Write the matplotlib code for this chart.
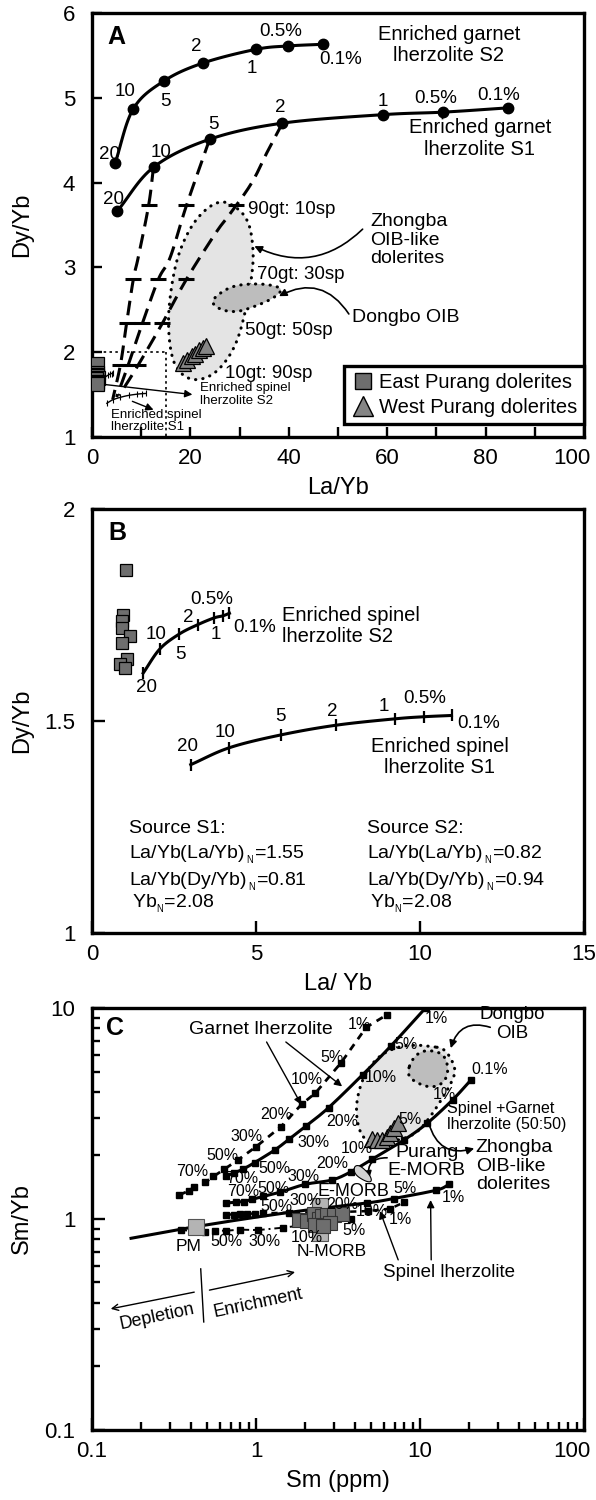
import numpy as np
import matplotlib
matplotlib.use("Agg")
import matplotlib.pyplot as plt
from matplotlib.lines import Line2D
from matplotlib.transforms import ScaledTranslation
from matplotlib.ticker import FixedLocator, LogLocator, NullFormatter, FuncFormatter

plt.rcParams['font.family'] = ['Liberation Sans', 'DejaVu Sans']
plt.rcParams['mathtext.fontset'] = 'custom'
plt.rcParams['mathtext.rm'] = 'Liberation Sans'

# === DATA ===
# Panel A - batch melting of enriched garnet lherzolite (La/Yb, Dy/Yb)
melt_steps = ['20', '10', '5', '2', '1', '0.5%', '0.1%']
grt_s2_la = [4.7, 8.4, 14.7, 22.6, 33.3, 39.8, 46.9]
grt_s2_dy = [4.23, 4.87, 5.20, 5.41, 5.57, 5.61, 5.63]
grt_s1_la = [5.1, 12.5, 23.9, 38.7, 59.1, 71.4, 84.5]
grt_s1_dy = [3.66, 4.18, 4.51, 4.70, 4.80, 4.83, 4.88]

# garnet/spinel mixing curves (10 %, 5 %, 2 % melts)
mix10_la = [12.5, 11.5, 9.4, 8.4, 7.0, 5.8, 4.2]
mix10_dy = [4.18, 3.73, 3.12, 2.86, 2.33, 1.86, 1.44]
mix5_la = [23.9, 19.2, 15.9, 13.5, 10.3, 7.3, 5.0]
mix5_dy = [4.51, 3.73, 3.12, 2.86, 2.35, 1.84, 1.47]
mix2_la = [38.7, 35.7, 32.5, 28.3, 25.2, 19.2, 14.2, 9.1, 5.5]
mix2_dy = [4.70, 4.37, 4.00, 3.65, 3.41, 2.86, 2.33, 1.82, 1.49]
mix_levels = [3.73, 2.86, 2.34, 1.85]

# Zhongba OIB-like dolerites and Dongbo OIB fields
zhongba_la = [27.6, 31.8, 32.9, 32.5, 31.1, 29.4, 26.9, 24.1, 20.6, 17.8, 16.1, 15.4, 15.9, 17.1, 19.2, 21.7, 24.8]
zhongba_dy = [3.78, 3.59, 3.20, 2.88, 2.45, 2.10, 1.86, 1.71, 1.66, 1.75, 1.94, 2.33, 2.69, 3.08, 3.39, 3.61, 3.76]
dongbo_la = [24.1, 26.0, 29.0, 33.9, 37.5, 38.8, 36.5, 31.8, 29.0, 26.0]
dongbo_dy = [2.59, 2.70, 2.79, 2.81, 2.78, 2.73, 2.62, 2.51, 2.47, 2.50]

# Panel B - enriched spinel lherzolite melting
spl_s2_la = [1.56, 2.07, 2.66, 3.22, 3.72, 3.99, 4.19]
spl_s2_dy = [1.613, 1.67, 1.705, 1.727, 1.743, 1.748, 1.754]
spl_s1_la = [3.01, 4.19, 5.75, 7.44, 9.23, 10.12, 10.96]
spl_s1_dy = [1.397, 1.437, 1.467, 1.49, 1.505, 1.51, 1.513]

# samples
east_la = [1.04, 0.93, 0.90, 0.92, 1.16, 0.90, 1.06, 0.85, 1.00]
east_dy = [1.855, 1.75, 1.735, 1.72, 1.70, 1.685, 1.645, 1.635, 1.625]
west_la = [18.5, 19.4, 20.3, 21.0, 21.8, 22.6, 23.2]
west_dy = [1.87, 1.91, 1.95, 1.98, 2.02, 2.05, 2.07]

# Panel C - Sm vs Sm/Yb melting curves
grt1_sm = [0.34, 0.39, 0.42, 0.49, 0.55, 0.64, 0.78, 1.0, 1.42, 1.9, 2.3, 3.3, 4.7, 6.3]
grt1_smyb = [1.30, 1.36, 1.42, 1.49, 1.59, 1.72, 1.91, 2.2, 2.74, 3.5, 3.95, 5.5, 8.1, 9.3]
grt2_sm = [0.66, 0.73, 0.83, 0.98, 1.31, 1.59, 2.02, 2.77, 4.47, 6.61, 10.8]
grt2_smyb = [1.60, 1.65, 1.72, 1.85, 2.13, 2.39, 2.76, 3.37, 4.83, 6.58, 10.0]
sg_sm = [0.66, 0.75, 0.84, 0.95, 1.11, 1.4, 2.0, 2.9, 3.77, 5.1, 8.0, 11.1, 15.8, 20.5]
sg_smyb = [1.19, 1.20, 1.21, 1.24, 1.28, 1.34, 1.46, 1.53, 1.67, 1.92, 2.37, 2.85, 3.67, 4.57]
spl1_sm = [0.173, 0.34, 0.43, 0.92, 2.0, 4.74, 6.9, 12.6, 15.0]
spl1_smyb = [0.81, 0.89, 0.92, 1.01, 1.10, 1.19, 1.25, 1.37, 1.46]
spl2_sm = [0.66, 0.73, 0.80, 0.88, 0.98, 1.1, 1.6, 2.4, 3.4, 4.8, 6.6, 8.0]
spl2_smyb = [1.05, 1.05, 1.055, 1.06, 1.06, 1.065, 1.07, 1.075, 1.08, 1.09, 1.12, 1.20]
dep_sm = [0.35, 0.49, 0.56, 0.66, 0.80, 1.03, 1.47, 3.77]
dep_smyb = [0.886, 0.87, 0.88, 0.88, 0.89, 0.886, 0.91, 0.995]

ref_names = ['PM', 'N-MORB', 'E-MORB']
ref_sm = [0.43, 2.45, 2.47]
ref_smyb = [0.92, 0.86, 1.15]

east_sm = [1.82, 2.04, 2.25, 2.41, 2.53, 2.72, 2.97, 3.34, 2.84, 2.30, 2.55]
east_smyb = [0.99, 0.98, 1.06, 1.00, 1.03, 1.05, 1.05, 1.06, 0.96, 0.94, 0.93]
west_sm = [5.1, 5.5, 5.9, 6.3, 6.6, 6.9, 7.3]
west_smyb = [2.40, 2.38, 2.36, 2.45, 2.55, 2.70, 2.85]

zhongba_sm = [11.6, 14.0, 15.8, 16.5, 15.5, 13.5, 11.6, 9.6, 7.6, 6.1, 5.1, 4.4, 4.1, 4.1, 4.5, 5.5, 7.3, 9.6]
zhongba_smyb = [6.57, 6.46, 5.6, 5.0, 4.4, 3.67, 3.06, 2.55, 2.37, 2.32, 2.28, 2.46, 2.96, 3.67, 4.72, 5.89, 6.57, 6.69]
dongbo_sm = [8.3, 9.0, 10.6, 14.0, 15.0, 14.0, 11.6, 9.2]
dongbo_smyb = [4.9, 5.8, 6.36, 6.11, 5.09, 4.4, 4.17, 4.47]
emorb_sm = [3.95, 4.3, 4.95, 5.1, 4.7, 4.0]
emorb_smyb = [1.78, 1.80, 1.62, 1.50, 1.50, 1.62]

GREY_DARK = '#6e6e6e'
GREY_TRI = '#858585'
GREY_LIGHT = '#b4b4b4'
FIELD = '#e4e4e4'
FIELD_DARK = '#bdbdbd'


def chaikin(x, y, n=4):
    p = np.column_stack([x, y]).astype(float)
    for _ in range(n):
        q = np.roll(p, -1, axis=0)
        p = np.stack([0.75 * p + 0.25 * q, 0.25 * p + 0.75 * q], axis=1).reshape(-1, 2)
    return p


def catmull(x, y, logx=False, logy=False, n=16):
    x = np.asarray(x, float)
    y = np.asarray(y, float)
    p = np.column_stack([np.log10(x) if logx else x, np.log10(y) if logy else y])
    p = np.vstack([2 * p[0] - p[1], p, 2 * p[-1] - p[-2]])
    t = np.linspace(0, 1, n, endpoint=False)[:, None]
    segs = []
    for i in range(1, len(p) - 2):
        p0, p1, p2, p3 = p[i - 1], p[i], p[i + 1], p[i + 2]
        segs.append(0.5 * (2 * p1 + (-p0 + p2) * t + (2 * p0 - 5 * p1 + 4 * p2 - p3) * t ** 2
                           + (-p0 + 3 * p1 - 3 * p2 + p3) * t ** 3))
    segs.append(p[-2][None, :])
    s = np.vstack(segs)
    return (10 ** s[:, 0] if logx else s[:, 0]), (10 ** s[:, 1] if logy else s[:, 1])


def field(ax, x, y, face, log=False, edge_ls=(0, (0.1, 2.3)), lw=2.2, z=1):
    x = np.asarray(x, float)
    y = np.asarray(y, float)
    if log:
        pts = 10 ** chaikin(np.log10(x), np.log10(y))
    else:
        pts = chaikin(x, y)
    ax.fill(pts[:, 0], pts[:, 1], color=face, lw=0, zorder=z)
    closed = np.vstack([pts, pts[:1]])
    ax.plot(closed[:, 0], closed[:, 1], color='k', lw=lw, ls=edge_ls,
            dash_capstyle='round', zorder=z + 0.5)


def frame(ax):
    for s in ax.spines.values():
        s.set_linewidth(2.4)
    ax.tick_params(which='both', direction='in', top=False, right=False, width=1.7, labelsize=16)
    ax.tick_params(which='major', length=7)
    ax.tick_params(which='minor', length=4.5)
    ax.tick_params(axis='x', pad=8)
    ax.tick_params(axis='y', pad=12)


def arrow(ax, xy, xytext, rad=0.0, lw=1.2, style='-|>'):
    ax.annotate('', xy=xy, xytext=xytext,
                arrowprops=dict(arrowstyle=style, color='k', lw=lw, mutation_scale=11,
                                shrinkA=0, shrinkB=0, connectionstyle=f'arc3,rad={rad}'))


fig = plt.figure(figsize=(5.96, 15), dpi=100)
axA = fig.add_axes([0.1544, 0.7087, 0.8255, 0.2827])
axB = fig.add_axes([0.1544, 0.3780, 0.8255, 0.2827])
axC = fig.add_axes([0.1544, 0.0467, 0.8255, 0.2813])

# ---------------- Panel A ----------------
ax = axA
frame(ax)
ax.set_xlim(0, 100)
ax.set_ylim(1, 6)
ax.xaxis.set_major_locator(FixedLocator([0, 20, 40, 60, 80, 100]))
ax.xaxis.set_minor_locator(FixedLocator([10, 30, 50, 70, 90]))
ax.yaxis.set_major_locator(FixedLocator([1, 2, 3, 4, 5, 6]))
ax.tick_params(axis='x', which='minor', length=7)

field(ax, zhongba_la, zhongba_dy, FIELD)
field(ax, dongbo_la, dongbo_dy, FIELD_DARK, z=3)

for mx, my in [(mix10_la, mix10_dy), (mix5_la, mix5_dy), (mix2_la, mix2_dy)]:
    sx, sy = catmull(mx, my)
    ax.plot(sx, sy, color='k', lw=2.2, ls=(0, (4.8, 2.6)), zorder=4)
    ys = np.array(my)[::-1]
    xs = np.array(mx)[::-1]
    for lev in mix_levels:
        ax.plot(np.interp(lev, ys, xs), lev, marker='_', ms=11, mew=2.2, color='k', zorder=4)

# dotted guide box of panel B range
ax.plot([0, 15], [2, 2], color='k', lw=1.2, ls=(0, (1.5, 2)), zorder=2)
ax.plot([15, 15], [2, 1], color='k', lw=1.2, ls=(0, (1.5, 2)), zorder=2)

for gx, gy in [(grt_s2_la, grt_s2_dy), (grt_s1_la, grt_s1_dy)]:
    sx, sy = catmull(gx, gy)
    ax.plot(sx, sy, color='k', lw=2.2, zorder=5)
    ax.plot(gx, gy, ls='none', marker='o', ms=7.5, color='k', zorder=6)

for sx0, sy0 in [(spl_s1_la, spl_s1_dy), (spl_s2_la, spl_s2_dy)]:
    sx, sy = catmull(sx0, sy0)
    ax.plot(sx, sy, color='k', lw=1.0, zorder=5)
    ax.plot(sx0, sy0, ls='none', marker='|', ms=4, mew=0.8, color='k', zorder=5)

ax.plot(east_la, east_dy, ls='none', marker='s', ms=10, mfc=GREY_DARK, mec='k', mew=0.9, zorder=7)
ax.plot(west_la, west_dy, ls='none', marker='^', ms=12, mfc=GREY_TRI, mec='k', mew=0.9, zorder=7)

fs_num = 13.5
for lab, x, y in zip(melt_steps, [3.5, 6.7, 14.9, 21.2, 32.5, 38.3, 50.6], [4.33, 5.07, 4.95, 5.60, 5.35, 5.78, 5.45]):
    ax.text(x, y, lab, fontsize=fs_num, ha='center', va='center', zorder=8)
for lab, x, y in zip(melt_steps, [4.3, 14.1, 24.7, 38.3, 59.1, 69.8, 82.7], [3.80, 4.35, 4.68, 4.88, 4.96, 4.99, 5.03]):
    ax.text(x, y, lab, fontsize=fs_num, ha='center', va='center', zorder=8)

ax.text(4.9, 5.72, 'A', fontsize=18, fontweight='bold', ha='center', va='center')
ax.text(72.5, 5.62, 'Enriched garnet\nlherzolite S2', fontsize=14.5, ha='center', va='center',
        linespacing=1.15)
ax.text(78.8, 4.52, 'Enriched garnet\nlherzolite S1', fontsize=14.5, ha='center', va='center',
        linespacing=1.15)
ax.text(31.8, 3.68, '90gt: 10sp', fontsize=13.5, ha='left', va='center', zorder=8)
ax.text(33.6, 2.91, '70gt: 30sp', fontsize=13.5, ha='left', va='center', zorder=8)
ax.text(31.1, 2.26, '50gt: 50sp', fontsize=13.5, ha='left', va='center', zorder=8)
ax.text(27.1, 1.75, '10gt: 90sp', fontsize=13.5, ha='left', va='center', zorder=8)
ax.text(56.5, 3.32, 'Zhongba\nOIB-like\ndolerites', fontsize=14, ha='left', va='center',
        linespacing=1.1)
ax.text(52.9, 2.41, 'Dongbo OIB', fontsize=14, ha='left', va='center')
ax.text(22.0, 1.50, 'Enriched spinel\nlherzolite S2', fontsize=9.5, ha='left', va='center',
        linespacing=1.05, zorder=8)
ax.text(3.9, 1.19, 'Enriched spinel\nlherzolite S1', fontsize=9.5, ha='left', va='center',
        linespacing=1.05, zorder=8)

arrow(ax, (33.0, 3.25), (55.0, 3.45), rad=-0.35)
arrow(ax, (38.0, 2.66), (52.2, 2.45), rad=0.45)
arrow(ax, (20.4, 1.50), (2.35, 1.62), rad=0.0, lw=1.0)
arrow(ax, (12.5, 1.32), (8.2, 1.42), rad=0.0, lw=1.0)

h1 = Line2D([], [], ls='none', marker='s', ms=12, mfc=GREY_DARK, mec='k', mew=1)
h2 = Line2D([], [], ls='none', marker='^', ms=14, mfc=GREY_TRI, mec='k', mew=1)
leg = ax.legend([h1, h2], ['East Purang dolerites', 'West Purang dolerites'], loc='lower right',
                bbox_to_anchor=(1.0, 0.03), borderaxespad=0, fontsize=14.5, frameon=True,
                fancybox=False, edgecolor='k', framealpha=1, handletextpad=0.25,
                borderpad=0.35, labelspacing=0.3, handlelength=1.1)
leg.get_frame().set_linewidth(2.4)
leg.set_zorder(10)

ax.set_xlabel('La/Yb', fontsize=17, labelpad=6)
ax.set_ylabel('Dy/Yb', fontsize=17)
ax.yaxis.set_label_coords(-0.12, 0.5)

# ---------------- Panel B ----------------
ax = axB
frame(ax)
ax.set_xlim(0, 15)
ax.set_ylim(1, 2)
ax.xaxis.set_major_locator(FixedLocator([0, 5, 10, 15]))
ax.yaxis.set_major_locator(FixedLocator([1, 1.5, 2]))
ax.yaxis.set_major_formatter(FuncFormatter(lambda v, _: f'{v:g}'))
ax.tick_params(which='major', length=9)

for sx0, sy0 in [(spl_s2_la, spl_s2_dy), (spl_s1_la, spl_s1_dy)]:
    sx, sy = catmull(sx0, sy0)
    ax.plot(sx, sy, color='k', lw=2.2, zorder=5)
    ax.plot(sx0, sy0, ls='none', marker='|', ms=9, mew=1.6, color='k', zorder=5)

ax.plot(east_la, east_dy, ls='none', marker='s', ms=9, mfc=GREY_DARK, mec='k', mew=0.9, zorder=7)

for lab, x, y in zip(melt_steps, [1.65, 1.95, 2.69, 2.92, 3.78, 3.66, 4.96], [1.58, 1.703, 1.656, 1.744, 1.705, 1.786, 1.72]):
    ax.text(x, y, lab, fontsize=fs_num, ha='center', va='center')
for lab, x, y in zip(melt_steps, [2.9, 4.07, 5.75, 7.32, 8.91, 10.15, 11.8], [1.44, 1.472, 1.51, 1.522, 1.535, 1.554, 1.495]):
    ax.text(x, y, lab, fontsize=fs_num, ha='center', va='center')

ax.text(0.77, 1.943, 'B', fontsize=18, fontweight='bold', ha='center', va='center')
ax.text(5.8, 1.724, 'Enriched spinel\nlherzolite S2', fontsize=14.5, ha='left', va='center',
        linespacing=1.15)
ax.text(10.6, 1.415, 'Enriched spinel\nlherzolite S1', fontsize=14.5, ha='center', va='center',
        linespacing=1.15)

src_rows = [1.247, 1.184, 1.12, 1.068]
ax.text(1.12, src_rows[0], 'Source S1:', fontsize=14, va='center')
ax.text(1.12, src_rows[1], r'La/Yb(La/Yb)$_{\rm \,_N}$=1.55', fontsize=14, va='center')
ax.text(1.12, src_rows[2], r'La/Yb(Dy/Yb)$_{\rm \,_N}$=0.81', fontsize=14, va='center')
ax.text(1.22, src_rows[3], r'Yb$_{\rm _N}$=2.08', fontsize=14, va='center')
ax.text(8.38, src_rows[0], 'Source S2:', fontsize=14, va='center')
ax.text(8.38, src_rows[1], r'La/Yb(La/Yb)$_{\rm \,_N}$=0.82', fontsize=14, va='center')
ax.text(8.38, src_rows[2], r'La/Yb(Dy/Yb)$_{\rm \,_N}$=0.94', fontsize=14, va='center')
ax.text(8.48, src_rows[3], r'Yb$_{\rm _N}$=2.08', fontsize=14, va='center')

ax.set_xlabel('La/ Yb', fontsize=17, labelpad=6)
ax.set_ylabel('Dy/Yb', fontsize=17)
ax.yaxis.set_label_coords(-0.12, 0.5)

# ---------------- Panel C ----------------
ax = axC
frame(ax)
ax.set_xscale('log')
ax.set_yscale('log')
ax.set_xlim(0.1, 100)
ax.set_ylim(0.1, 10)
fmt = FuncFormatter(lambda v, _: f'{v:g}')
ax.xaxis.set_major_locator(FixedLocator([0.1, 1, 10, 100]))
ax.yaxis.set_major_locator(FixedLocator([0.1, 1, 10]))
ax.xaxis.set_major_formatter(fmt)
ax.yaxis.set_major_formatter(fmt)
ax.xaxis.set_minor_locator(LogLocator(base=10, subs=np.arange(2, 10)))
ax.yaxis.set_minor_locator(LogLocator(base=10, subs=np.arange(2, 10)))
ax.xaxis.set_minor_formatter(NullFormatter())
ax.yaxis.set_minor_formatter(NullFormatter())
ax.tick_params(which='major', length=9)
ax.tick_params(which='minor', length=6)

field(ax, zhongba_sm, zhongba_smyb, FIELD, log=True)
field(ax, dongbo_sm, dongbo_smyb, FIELD_DARK, log=True, z=3)
em = 10 ** chaikin(np.log10(emorb_sm), np.log10(emorb_smyb))
ax.fill(em[:, 0], em[:, 1], facecolor='#d2d2d2', edgecolor='k', lw=0.8, zorder=6)

# melting curves
ax.plot(grt1_sm, grt1_smyb, color='k', lw=2.0, ls=(0, (2.6, 2.2)), marker='s', ms=4.2, zorder=5)
for cx, cy in [(grt2_sm, grt2_smyb), (sg_sm, sg_smyb)]:
    sx, sy = catmull(cx, cy, True, True)
    ax.plot(sx, sy, color='k', lw=2.2, zorder=5)
    ax.plot(cx, cy, ls='none', marker='s', ms=4.2, color='k', zorder=5)
sx, sy = catmull(spl1_sm, spl1_smyb, True, True)
ax.plot(sx, sy, color='k', lw=2.2, zorder=5)
ax.plot(spl1_sm[5:], spl1_smyb[5:], ls='none', marker='s', ms=4.2, color='k', zorder=5)
ax.plot(spl2_sm, spl2_smyb, color='k', lw=1.8, ls=(0, (2.5, 2)), marker='s', ms=4.2, zorder=5)
ax.plot(dep_sm, dep_smyb, color='k', lw=1.4, ls=(0, (3, 2, 1, 2)), marker='s', ms=4.2, zorder=5)

# samples and reference compositions
ax.plot(ref_sm, ref_smyb, ls='none', marker='s', ms=11, mfc=GREY_LIGHT, mec='#555555', mew=0.8, zorder=6)
ax.plot(east_sm, east_smyb, ls='none', marker='s', ms=10, mfc=GREY_DARK, mec='#333333', mew=0.8, zorder=7)
ax.plot(west_sm, west_smyb, ls='none', marker='^', ms=12, mfc=GREY_TRI, mec='k', mew=0.9, zorder=7)

fs_pc = 11.5
pct = ['70%', '50%', '30%', '20%', '10%', '5%', '1%']
for lab, x, y in zip(pct, [0.41, 0.62, 0.88, 1.33, 2.05, 2.92, 4.28], [1.68, 2.01, 2.46, 3.12, 4.57, 5.80, 8.34]):
    ax.text(x, y, lab, fontsize=fs_pc, ha='center', va='center', zorder=8)
for lab, x, y in zip(pct, [0.82, 1.29, 2.25, 3.35, 5.77, 8.2, 12.6], [1.55, 1.74, 2.30, 2.90, 4.66, 6.7, 8.9]):
    ax.text(x, y, lab, fontsize=fs_pc, ha='center', va='center', zorder=8)
for lab, x, y in zip(pct + ['0.1%'], [0.83, 1.27, 1.94, 2.91, 4.1, 8.7, 14.0, 26.5], [1.35, 1.40, 1.59, 1.84, 2.15, 2.95, 3.9, 5.1]):
    ax.text(x, y, lab, fontsize=fs_pc, ha='center', va='center', zorder=8)
for lab, x, y in zip(['50%', '30%', '20%', '10%', '1%'], [1.34, 2.0, 3.34, 5.1, 7.6], [1.14, 1.23, 1.165, 1.08, 0.99]):
    ax.text(x, y, lab, fontsize=fs_pc, ha='center', va='center', zorder=8)
for lab, x, y in zip(['50%', '30%', '10%', '5%'], [0.66, 1.13, 2.04, 3.94], [0.78, 0.78, 0.82, 0.886]):
    ax.text(x, y, lab, fontsize=fs_pc, ha='center', va='center', zorder=8)
ax.text(8.1, 1.40, '5%', fontsize=fs_pc, ha='center', va='center', zorder=8)
ax.text(16.0, 1.26, '1%', fontsize=fs_pc, ha='center', va='center', zorder=8)

ax.text(0.139, 8.0, 'C', fontsize=18, fontweight='bold', ha='center', va='center')
ax.text(0.39, 7.9, 'Garnet lherzolite', fontsize=14, ha='left', va='center')
arrow(ax, (1.89, 3.48), (1.16, 6.9), lw=1.0)
arrow(ax, (3.35, 4.25), (1.52, 6.9), lw=1.0)
ax.text(36.7, 8.4, 'Dongbo\nOIB', fontsize=13.5, ha='center', va='center', linespacing=1.1)
arrow(ax, (15.4, 6.45), (26.8, 8.1), rad=0.5)
ax.text(14.6, 3.05, 'Spinel +Garnet\nlherzolite (50:50)', fontsize=11.5, ha='left', va='center',
        linespacing=1.1)
ax.text(21.9, 1.78, 'Zhongba\nOIB-like\ndolerites', fontsize=14, ha='left', va='center',
        linespacing=1.1)
arrow(ax, (21.4, 2.16), (11.3, 2.85), rad=0.5)
ax.text(11.0, 1.87, 'Purang\nE-MORB', fontsize=14, ha='center', va='center', linespacing=1.05)
arrow(ax, (4.9, 1.55), (6.3, 1.95), rad=0.6)
ax.text(3.9, 1.345, 'E-MORB', fontsize=13, ha='center', va='center', zorder=8)
ax.text(0.39, 0.74, 'PM', fontsize=12.5, ha='center', va='center')
ax.text(2.9, 0.70, 'N-MORB', fontsize=12.5, ha='center', va='center')
ax.text(15.0, 0.56, 'Spinel lherzolite', fontsize=13.5, ha='center', va='center')
arrow(ax, (5.7, 1.09), (7.36, 0.64), lw=1.0)
arrow(ax, (11.6, 1.23), (11.7, 0.64), lw=1.0)

ax.text(0.25, 0.343, 'Depletion', fontsize=13, ha='center', va='center', rotation=12)
ax.text(1.03, 0.40, 'Enrichment', fontsize=13, ha='center', va='center', rotation=12)
ax.plot([0.46, 0.48], [0.58, 0.325], color='k', lw=1.0)
arrow(ax, (0.13, 0.375), (0.42, 0.45), lw=1.0, style='->')
arrow(ax, (1.73, 0.56), (0.52, 0.46), lw=1.0, style='->')

ax.set_xlabel('Sm (ppm)', fontsize=17, labelpad=6)
ax.set_ylabel('Sm/Yb', fontsize=17)
ax.yaxis.set_label_coords(-0.12, 0.5)

# keep the right-most "100" labels inside the canvas
fig.canvas.draw()
for a in (axA, axC):
    last = a.xaxis.get_majorticklabels()[-1]
    last.set_transform(last.get_transform() + ScaledTranslation(-9 / 72, 0, fig.dpi_scale_trans))

fig.savefig('out.png', dpi=100)
